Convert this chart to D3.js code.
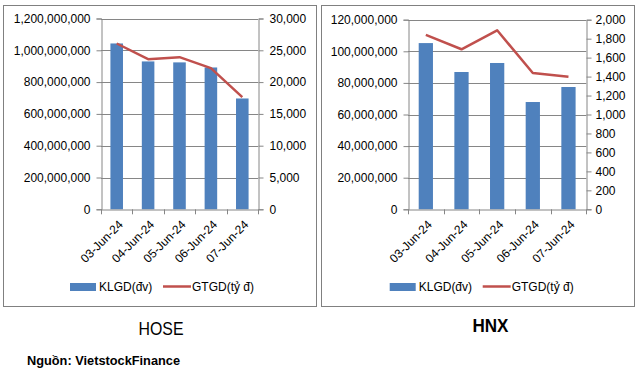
<!DOCTYPE html>
<html>
<head>
<meta charset="utf-8">
<script src="https://cdn.jsdelivr.net/npm/d3@7"></script>
<style>
body{margin:0;background:#fff;}
svg{display:block;}
text{font-family:"Liberation Sans",Arial,sans-serif;fill:#000;}
</style>
</head>
<body>
<svg id="chart" width="639" height="373"></svg>
<script>
const dates=["03-Jun-24","04-Jun-24","05-Jun-24","06-Jun-24","07-Jun-24"];
const hoseKLGD=[1043e6,930e6,924e6,892e6,697e6];
const hoseGTGD=[26070,23600,23920,22190,17640];
const hnxKLGD=[105.2e6,86.9e6,92.6e6,67.9e6,77.4e6];
const hnxGTGD=[1839,1688,1888,1438,1399];
const hoseLeftTicks=d3.range(0,1200000001,200000000);
const hoseRightTicks=d3.range(0,30001,5000);
const hnxLeftTicks=d3.range(0,120000001,20000000);
const hnxRightTicks=d3.range(0,2001,200);
const legendNames=["KLGD(đv)","GTGD(tỷ  đ)"];

const svg=d3.select("#chart");
const fmt=d3.format(",");
const gridCol="#868686",barCol="#4F81BD",lineCol="#C0504D";

function drawPanel(p){
	//frame
	svg.append("rect").attr("x",p.box[0]+0.5).attr("y",p.box[1]+0.5)
		.attr("width",p.box[2]-p.box[0]).attr("height",p.box[3]-p.box[1])
		.attr("fill","none").attr("stroke","#808080").attr("stroke-width",1);
	const x=d3.scaleBand().domain(dates).range([p.left,p.right]);
	const yL=d3.scaleLinear().domain([0,d3.max(p.lTicks)]).range([p.bottom,p.top]);
	const yR=d3.scaleLinear().domain([0,d3.max(p.rTicks)]).range([p.bottom,p.top]);
	const g=svg.append("g");
	//grid
	g.selectAll(".grid").data(p.lTicks.slice(1)).enter().append("line")
		.attr("x1",p.left).attr("x2",p.right)
		.attr("y1",d=>Math.round(yL(d))+0.5).attr("y2",d=>Math.round(yL(d))+0.5)
		.attr("stroke",gridCol);
	//bars
	g.selectAll(".bar").data(p.bars).enter().append("rect")
		.attr("x",(d,i)=>x(dates[i])+x.bandwidth()*0.3)
		.attr("width",x.bandwidth()*0.4)
		.attr("y",d=>yL(d)).attr("height",d=>p.bottom-yL(d))
		.attr("fill",barCol);
	//axes
	const axL=d3.axisLeft(yL).tickValues(p.lTicks).tickFormat(fmt).tickSize(5).tickPadding(6);
	const axR=d3.axisRight(yR).tickValues(p.rTicks).tickFormat(fmt).tickSize(5).tickPadding(p.rPad);
	const axB=d3.axisBottom(x).tickSize(0).tickFormat("");
	const gl=g.append("g").attr("transform","translate("+(Math.round(p.left)+0.5)+",0)").call(axL);
	const gr=g.append("g").attr("transform","translate("+(Math.round(p.right)+0.5)+",0)").call(axR);
	const gb=g.append("g").attr("transform","translate(0,"+(Math.round(p.bottom)+0.5)+")").call(axB);
	[gl,gr,gb].forEach(a=>{
		a.select(".domain").attr("stroke",gridCol);
		a.selectAll(".tick line").attr("stroke",gridCol);
		a.selectAll("text").style("font-size","12px").style("font-family","Liberation Sans, Arial, sans-serif").attr("fill","#000");
	});
	//category separators
	g.selectAll(".sep").data(d3.range(dates.length+1)).enter().append("line")
		.attr("x1",i=>Math.round(p.left+i*x.step())+0.5).attr("x2",i=>Math.round(p.left+i*x.step())+0.5)
		.attr("y1",p.bottom).attr("y2",p.bottom+5).attr("stroke",gridCol);
	//x labels
	g.selectAll(".xl").data(dates).enter().append("text")
		.attr("transform",d=>"translate("+(x(d)+x.bandwidth()/2+4)+","+(p.bottom+13)+") rotate(-45)")
		.attr("text-anchor","end").attr("dy","0.35em")
		.style("font-size","12px").text(d=>d);
	//line
	const line=d3.line().x((d,i)=>x(dates[i])+x.bandwidth()/2).y(d=>yR(d));
	g.append("path").datum(p.line).attr("d",line)
		.attr("fill","none").attr("stroke",lineCol).attr("stroke-width",2.5).attr("stroke-linejoin","round");
	//legend
	const lg=g.append("g").attr("transform","translate("+p.legX+",283)");
	lg.append("rect").attr("x",0).attr("y",0).attr("width",26).attr("height",8).attr("fill",barCol);
	lg.append("text").attr("x",29).attr("y",8).style("font-size","12px").text(legendNames[0]);
	lg.append("line").attr("x1",93).attr("x2",121).attr("y1",3.5).attr("y2",3.5)
		.attr("stroke",lineCol).attr("stroke-width",2.5);
	lg.append("text").attr("x",122).attr("y",8).style("font-size","12px").text(legendNames[1]);
	//title
	svg.append("text").attr("x",p.titleX).attr("y",p.titleY)
		.attr("textLength",p.titleW).attr("lengthAdjust","spacingAndGlyphs")
		.style("font-family","Liberation Sans Narrow, Liberation Sans, Arial, sans-serif")
		.style("font-size","19px").style("font-weight",p.titleBold?"bold":"normal")
		.text(p.title);
}

drawPanel({box:[3,5,316,306],left:101,right:258,top:18.5,bottom:209.3,
	lTicks:hoseLeftTicks,rTicks:hoseRightTicks,rPad:6,bars:hoseKLGD,line:hoseGTGD,
	legX:70,title:"HOSE",titleX:138.5,titleY:334.5,titleW:45,titleBold:false});
drawPanel({box:[321,5,634,306],left:408,right:586.3,top:19.7,bottom:209.3,
	lTicks:hnxLeftTicks,rTicks:hnxRightTicks,rPad:4,bars:hnxKLGD,line:hnxGTGD,
	legX:389.7,title:"HNX",titleX:472.5,titleY:332,titleW:36,titleBold:true});

svg.append("text").attr("x",27).attr("y",365)
	.attr("textLength",153).attr("lengthAdjust","spacingAndGlyphs")
	.style("font-size","12.5px").style("font-weight","bold")
	.text("Nguồn: VietstockFinance");
</script>
</body>
</html>
